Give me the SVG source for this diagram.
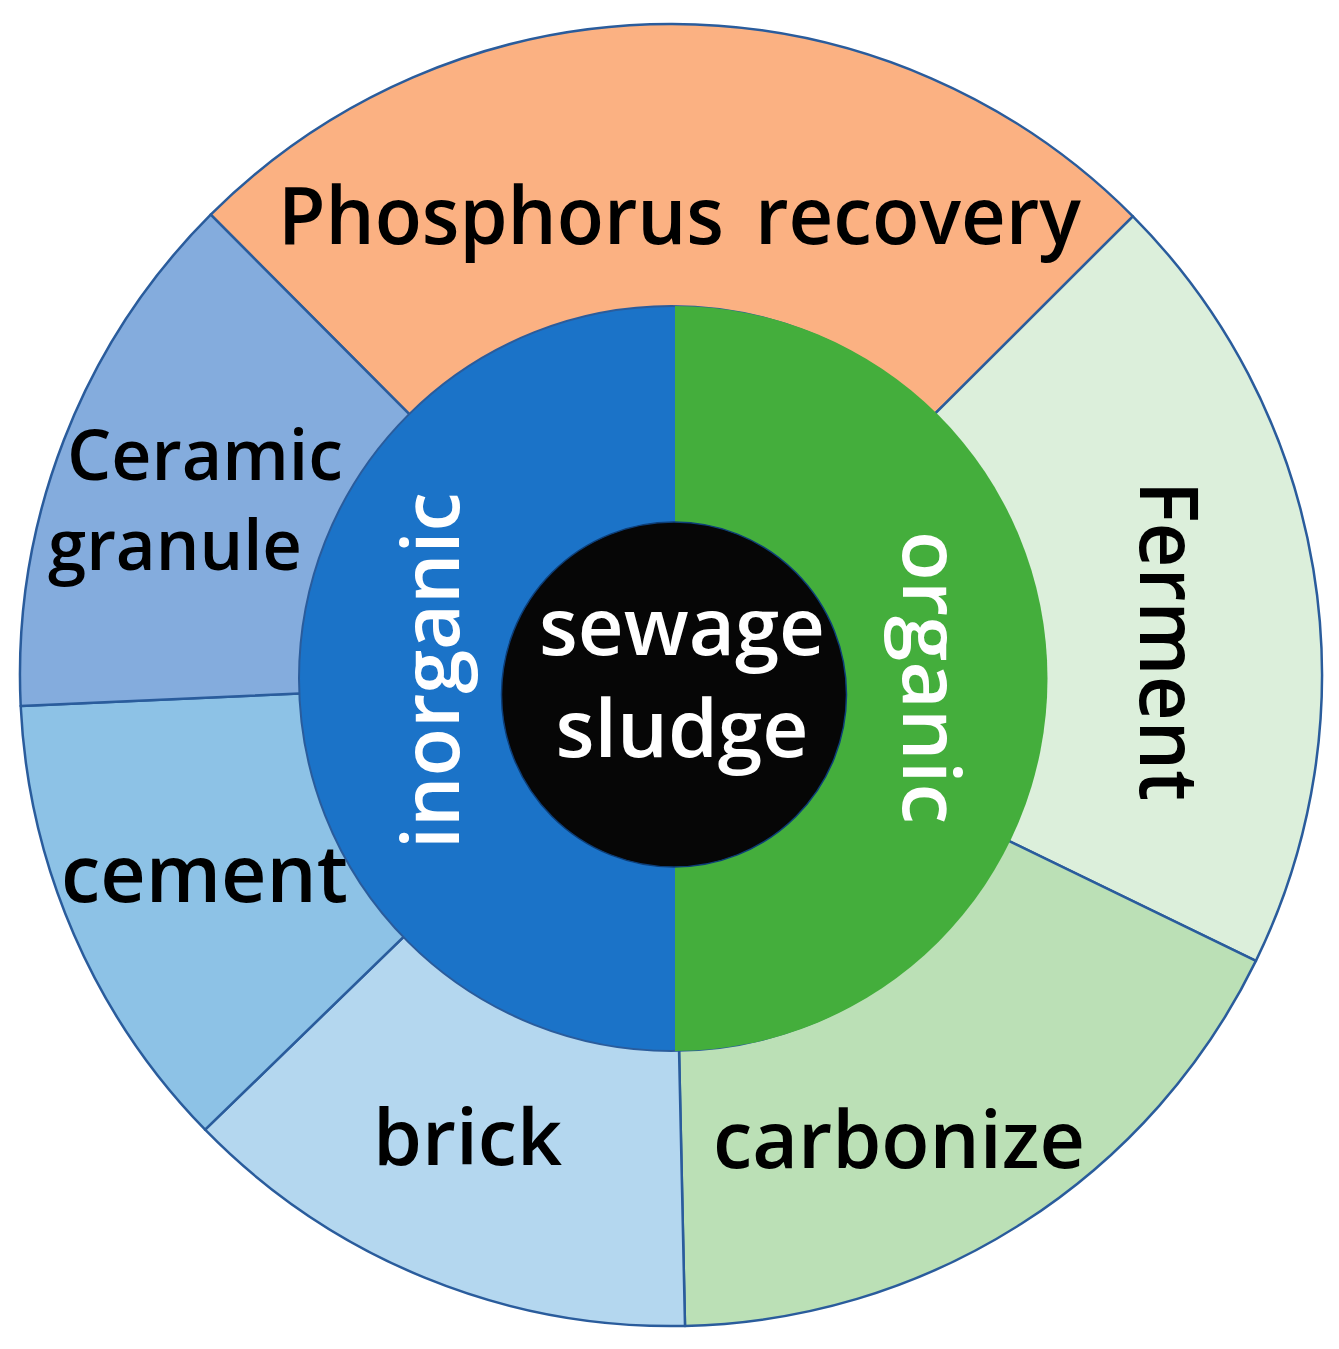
<svg xmlns="http://www.w3.org/2000/svg" width="1339" height="1349" viewBox="0 0 1339 1349">
<style>
.seg{stroke:#2A5C9C;stroke-width:2.5;stroke-linejoin:round}
.lbl{font-family:"Open Sans","Noto Sans","Liberation Sans",sans-serif;font-weight:600;fill:#000}
.wl{font-family:"Open Sans","Noto Sans","Liberation Sans",sans-serif;font-weight:600;fill:#fff}
</style>
<rect width="1339" height="1349" fill="#fff"/>
<g id="phosphorus-recovery">
<path class="seg" fill="#FBB182" d="M671 677 L210.7 214.7 A651 651 0 0 1 1132.9 216.3 Z"/>
<text class="lbl" font-size="80" y="244"><tspan x="278" textLength="446" lengthAdjust="spacingAndGlyphs">Phosphorus</tspan> <tspan x="755" textLength="326" lengthAdjust="spacingAndGlyphs">recovery</tspan></text>
</g>
<g id="ferment">
<path class="seg" fill="#DCEFDB" d="M671 677 L1132.9 216.3 A651 651 0 0 1 1255.9 960.9 Z"/>
<text class="lbl" font-size="82" transform="translate(1140 481) rotate(90)" textLength="320" lengthAdjust="spacingAndGlyphs">Ferment</text>
</g>
<g id="carbonize">
<path class="seg" fill="#BBE0B6" d="M671 677 L1255.9 960.9 A651 651 0 0 1 685 1325.9 Z"/>
<text class="lbl" font-size="79" x="713" y="1168" textLength="372" lengthAdjust="spacingAndGlyphs">carbonize</text>
</g>
<g id="brick">
<path class="seg" fill="#B4D7EF" d="M671 677 L685 1325.9 A651 651 0 0 1 205.1 1129.7 Z"/>
<text class="lbl" font-size="78" x="373" y="1165" textLength="189" lengthAdjust="spacingAndGlyphs">brick</text>
</g>
<g id="cement">
<path class="seg" fill="#8DC2E6" d="M671 677 L205.1 1129.7 A651 651 0 0 1 20.7 706 Z"/>
<text class="lbl" font-size="80" x="61" y="902" textLength="287" lengthAdjust="spacingAndGlyphs">cement</text>
</g>
<g id="ceramic-granule">
<path class="seg" fill="#84ACDD" d="M671 677 L20.7 706 A651 651 0 0 1 210.7 214.7 Z"/>
<text class="lbl" font-size="71"><tspan x="67" y="480" textLength="276" lengthAdjust="spacingAndGlyphs">Ceramic</tspan><tspan x="48" y="570" textLength="254" lengthAdjust="spacingAndGlyphs">granule</tspan></text>
</g>
<g id="inorganic">
<circle cx="671.5" cy="678.5" r="372.5" fill="#1B73C8" stroke="#2A5C9C" stroke-width="2"/>
<text class="wl" font-size="79" transform="translate(459 849) rotate(-90)" textLength="357" lengthAdjust="spacingAndGlyphs">inorganic</text>
</g>
<g id="organic">
<path fill="#44AE3C" d="M675 306 A372.5 372.5 0 0 1 675 1051 Z"/>
<text class="wl" font-size="79" transform="translate(903 531) rotate(90)" textLength="293" lengthAdjust="spacingAndGlyphs">organic</text>
</g>
<g id="sewage-sludge">
<circle cx="674" cy="694.5" r="172.5" fill="#060606" stroke="#0D3E78" stroke-width="1.5"/>
<text class="wl" font-size="79" text-anchor="middle"><tspan x="682" y="655" textLength="286" lengthAdjust="spacingAndGlyphs">sewage</tspan><tspan x="682" y="757" textLength="253" lengthAdjust="spacingAndGlyphs">sludge</tspan></text>
</g>
</svg>
